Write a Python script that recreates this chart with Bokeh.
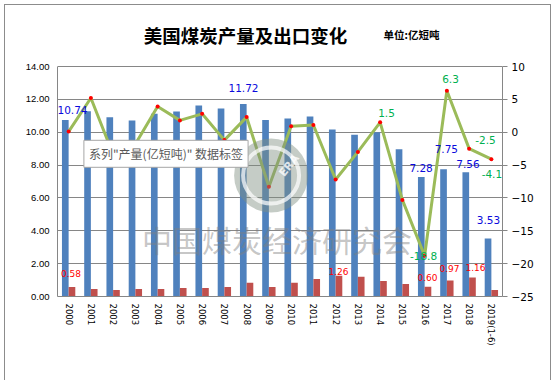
import math
from bokeh.plotting import figure
from bokeh.models import (ColumnDataSource, Range1d, FactorRange, LinearAxis, FixedTicker,
                          Label, LabelSet, Legend, LegendItem, NumeralTickFormatter)
from bokeh.transform import dodge
from bokeh.core.properties import value
from bokeh.embed import file_html
from bokeh.resources import INLINE

# ---------------- data ----------------
years = ["2000", "2001", "2002", "2003", "2004", "2005", "2006", "2007", "2008", "2009",
         "2010", "2011", "2012", "2013", "2014", "2015", "2016", "2017", "2018", "2019(1-6)"]
production = [10.74, 11.28, 10.91, 10.71, 11.12, 11.26, 11.62, 11.44, 11.72, 10.75,
              10.84, 10.96, 10.16, 9.84, 10.00, 8.96, 7.28, 7.75, 7.56, 3.53]
exports = [0.58, 0.45, 0.39, 0.45, 0.45, 0.51, 0.51, 0.58, 0.83, 0.58,
           0.83, 1.07, 1.26, 1.20, 0.95, 0.76, 0.60, 0.97, 1.16, 0.39]
growth = [0.1, 5.2, -3.4, -1.8, 3.9, 1.8, 2.8, -1.2, 2.3, -8.3,
          0.9, 1.1, -7.2, -3.0, 1.5, -10.3, -18.8, 6.3, -2.5, -4.1]

left_ticks = [0, 2, 4, 6, 8, 10, 12, 14]
right_ticks = [-25, -20, -15, -10, -5, 0, 5, 10]

prod_label_years = ["2000", "2008", "2016", "2017", "2018", "2019(1-6)"]
exp_label_years = ["2000", "2012", "2016", "2017", "2018"]
rate_label_years = ["2014", "2016", "2017", "2018", "2019(1-6)"]

title_text = "美国煤炭产量及出口变化"
unit_text = "单位:亿短吨"
tooltip_text = '系列"产量(亿短吨)" 数据标签'
watermark_text = "中国煤炭经济研究会"
legend_labels = ["产量(亿短吨)", "出口", "产量增长率(%)"]

# ---------------- styles / label placement (screen px) ----------------
BLUE, RED, GREEN = "#4F81BD", "#C0504D", "#9BBB59"
prod_off = {"2000": (3.9, 10.5), "2008": (-3.1, 15.7), "2016": (-3.5, 9.4),
            "2017": (-0.5, 19.7), "2018": (-1.1, 8.5), "2019(1-6)": (-2.9, 19)}
exp_off = {"2000": (2.4, 13.8), "2012": (2.9, 4.6), "2016": (2.9, 9.4),
           "2017": (2.6, 11.8), "2018": (6.4, 10.2)}
rate_off = {"2014": (6.4, 9.5), "2016": (-1.1, 0), "2017": (3.6, 12),
            "2018": (16.4, 9), "2019(1-6)": (0.5, -14.7)}

FRAME_W = 445
TOP = 8                              # px above the frame
FRAME_H = 283                        # frame runs from TOP down to the category axis
PX_PER_UNIT = 230 / 14               # left axis: 0..14 over 230 px
left_top = FRAME_H / PX_PER_UNIT     # frame extends above 14 to hold the titles
right_top = -25 + 35 * left_top / 14

p = figure(x_range=FactorRange(*years), y_range=Range1d(0, left_top),
           width=545, height=368, frame_width=FRAME_W, frame_height=FRAME_H,
           output_backend="svg", toolbar_location=None,
           title=None, min_border_left=52, min_border_right=48,
           min_border_top=TOP, min_border_bottom=77,
           styles={"margin-left": "4px", "margin-top": "4px",
                   "border": "1px solid #8c8c8c"})
p.outline_line_color = None
p.background_fill_color = "white"
p.border_fill_color = "white"

ya = p.yaxis[0]
ya.ticker = FixedTicker(ticks=left_ticks)
ya.bounds = (left_ticks[0], left_ticks[-1])
ya.formatter = NumeralTickFormatter(format="0.00")
ya.axis_line_color = "#868686"
ya.major_tick_out = 0
ya.major_tick_in = 0
ya.minor_tick_out = 0
ya.minor_tick_in = 0
ya.major_label_standoff = 8
ya.major_label_text_font = "Liberation Sans"
ya.major_label_text_font_size = "9.5px"
ya.major_label_text_color = "black"

p.ygrid.ticker = FixedTicker(ticks=left_ticks)
p.ygrid.grid_line_color = "#868686"
p.xgrid.visible = False

xa = p.xaxis[0]
xa.axis_line_color = "#868686"
xa.major_tick_out = 0
xa.major_tick_in = 0
xa.major_label_orientation = -math.pi / 2
xa.major_label_standoff = 7
xa.major_label_text_font = "DejaVu Sans"
xa.major_label_text_font_size = "8.5px"
xa.major_label_text_color = "black"

p.extra_y_ranges = {"rate": Range1d(-25, right_top)}
ra = LinearAxis(y_range_name="rate", ticker=FixedTicker(ticks=right_ticks),
                bounds=(right_ticks[0], right_ticks[-1]))
ra.axis_line_color = "#868686"
ra.major_tick_line_color = "#868686"
ra.major_tick_out = 5
ra.major_tick_in = 0
ra.minor_tick_out = 0
ra.minor_tick_in = 0
ra.major_label_standoff = 4
ra.major_label_text_font = "DejaVu Sans"
ra.major_label_text_font_size = "10.5px"
ra.major_label_text_color = "black"
p.add_layout(ra, "right")

src = ColumnDataSource(dict(year=years, prod=production, exp=exports, rate=growth))

b1 = p.vbar(x=dodge("year", -0.15, range=p.x_range), top="prod", width=0.3,
            source=src, fill_color=BLUE, line_color=None)
b2 = p.vbar(x=dodge("year", 0.15, range=p.x_range), top="exp", width=0.3,
            source=src, fill_color=RED, line_color=None)
ln = p.line("year", "rate", source=src, y_range_name="rate", line_color=GREEN,
            line_width=3, line_join="round")
mk = p.scatter("year", "rate", source=src, y_range_name="rate", marker="circle",
               size=4, fill_color="#FF0000", line_color=None)


def label_source(sel, vals, fmt, offs):
    idx = [years.index(y) for y in sel]
    return ColumnDataSource(dict(
        x=sel, y=[vals[i] for i in idx], text=[fmt % vals[i] for i in idx],
        dx=[offs[y][0] for y in sel], dy=[offs[y][1] for y in sel]))


p.add_layout(LabelSet(x="x", y="y", text="text", x_offset="dx", y_offset="dy",
                      source=label_source(prod_label_years, production, "%.2f", prod_off),
                      text_align="center", text_baseline="middle",
                      text_font=value("DejaVu Sans"), text_font_size=value("10.5px"),
                      text_color=value("#0A0ADC")))
p.add_layout(LabelSet(x="x", y="y", text="text", x_offset="dx", y_offset="dy",
                      source=label_source(exp_label_years, exports, "%.2f", exp_off),
                      text_align="center", text_baseline="middle",
                      text_font=value("DejaVu Sans"), text_font_size=value("9px"),
                      text_color=value("#FF0000")))
p.add_layout(LabelSet(x="x", y="y", text="text", x_offset="dx", y_offset="dy",
                      y_range_name="rate",
                      source=label_source(rate_label_years, growth, "%.1f", rate_off),
                      text_align="center", text_baseline="middle",
                      text_font=value("DejaVu Sans"), text_font_size=value("10.5px"),
                      text_color=value("#00B050")))

# watermark logo and text (decoration)
p.scatter(x=[9.6], y=[7.365], marker="circle", size=74, fill_color="#7E8E80",
          fill_alpha=0.45, line_color=None)
p.scatter(x=[9.6], y=[7.365], marker="circle", size=56, fill_alpha=0,
          line_color="white", line_width=4, line_alpha=0.7)
p.add_layout(Label(x=9.6, y=7.365, x_offset=18, y_offset=10, text="ERA", angle=0.9,
                   text_color="white", text_alpha=0.8, text_font="DejaVu Sans",
                   text_font_style="bold", text_font_size="11px",
                   text_align="center", text_baseline="middle"))
p.add_layout(Label(x=9.865, y=3.53, text=watermark_text, text_font="Noto Sans CJK SC",
                   text_font_size="30px", text_color="#7F7F7F", text_alpha=0.45,
                   text_align="center", text_baseline="middle"))

# tooltip box seen in the screenshot
p.add_layout(Label(x=4.876, y=8.686, text=tooltip_text, text_font="Noto Sans CJK SC",
                   text_font_size="12px", text_color="#595959",
                   background_fill_color="white", border_line_color="#A6A6A6",
                   padding=5, text_align="center", text_baseline="middle"))

# titles (inside the upper, axis-free part of the frame)
p.add_layout(Label(x=8.45, y=15.92, text=title_text, text_font="Noto Sans CJK SC",
                   text_font_style="bold", text_font_size="18.5px", text_color="black",
                   text_align="center", text_baseline="middle"))
p.add_layout(Label(x=15.91, y=15.95, text=unit_text, text_font="Noto Sans CJK SC",
                   text_font_style="bold", text_font_size="10.5px", text_color="black",
                   text_align="center", text_baseline="middle"))

legend = Legend(items=[LegendItem(label=legend_labels[0], renderers=[b1]),
                       LegendItem(label=legend_labels[1], renderers=[b2]),
                       LegendItem(label=legend_labels[2], renderers=[ln, mk])],
                location="top_center", orientation="horizontal",
                glyph_width=27, glyph_height=7, label_standoff=4, spacing=7,
                padding=0, margin=3, border_line_color=None,
                background_fill_alpha=0, label_height=12,
                label_text_font="Noto Sans CJK SC", label_text_font_size="10px")
p.add_layout(legend, "below")

open("out.html", "w").write(file_html(p, INLINE))
